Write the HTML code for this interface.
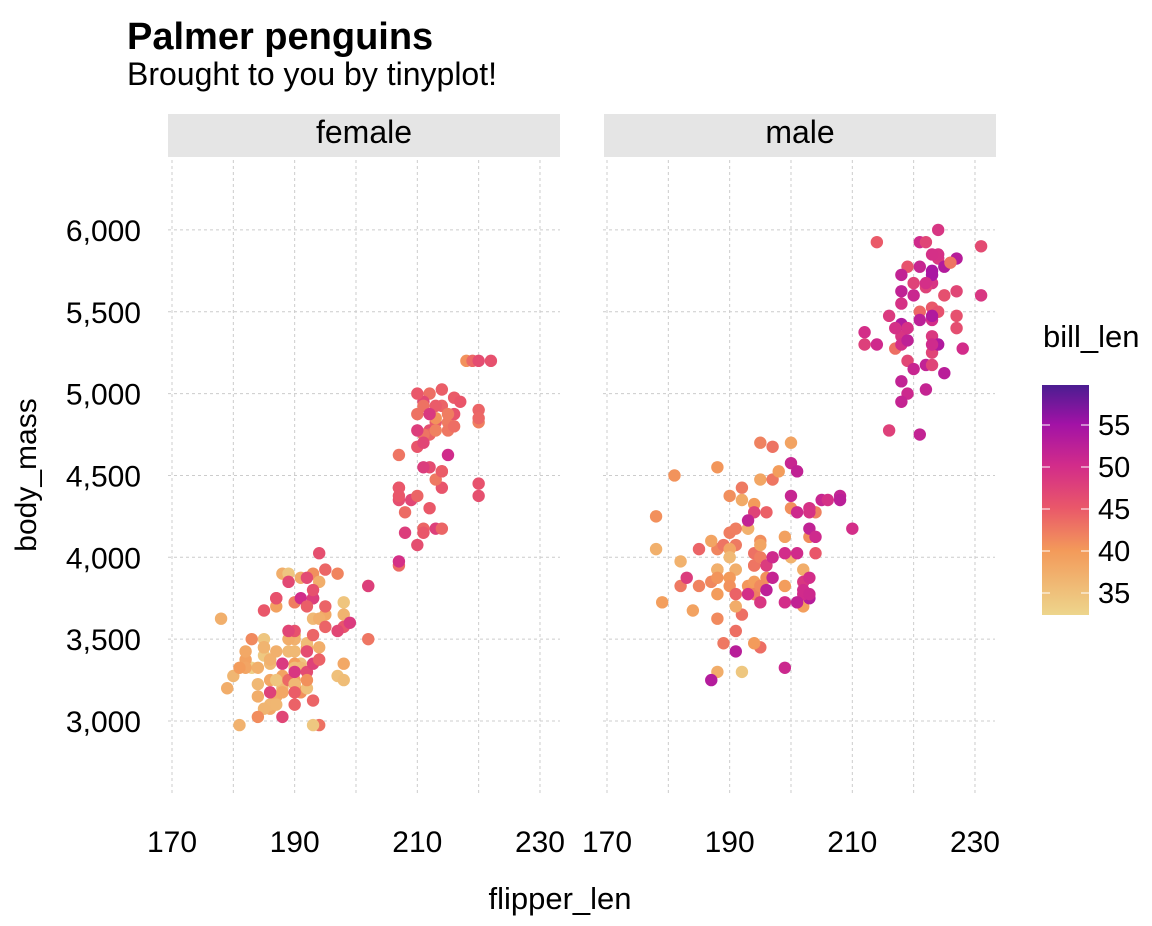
<!DOCTYPE html>
<html><head><meta charset="utf-8"><style>
body{margin:0;background:#fff;}
svg text{font-family:"Liberation Sans",sans-serif;fill:#000;}
</style></head><body>
<svg id="s" width="1152" height="921" xmlns="http://www.w3.org/2000/svg">
<defs><linearGradient id="g" x1="0" y1="1" x2="0" y2="0">
<stop offset="0" stop-color="#edd58c"/><stop offset="0.28" stop-color="#f39a5a"/>
<stop offset="0.47" stop-color="#e9566a"/><stop offset="0.65" stop-color="#d22c8a"/>
<stop offset="0.83" stop-color="#a212a6"/><stop offset="1" stop-color="#4b1d91"/></linearGradient></defs>
<text x="127" y="49" font-size="38" font-weight="bold">Palmer penguins</text>
<text x="127" y="85" font-size="32">Brought to you by tinyplot!</text>
<rect x="168" y="114" width="392" height="43" fill="#e5e5e5"/>
<rect x="604" y="114" width="392" height="43" fill="#e5e5e5"/>
<text x="364" y="143" font-size="32" text-anchor="middle">female</text>
<text x="800" y="143" font-size="32" text-anchor="middle">male</text>
<g id="grid" stroke="#cccccc" stroke-dasharray="3,3" stroke-width="1"></g>
<g id="pts"></g>
<g font-size="30" text-anchor="end" id="yl"></g>
<g font-size="30" text-anchor="middle" id="xl"></g>
<text x="560" y="909" font-size="31" text-anchor="middle">flipper_len</text>
<text transform="translate(36,475) rotate(-90)" font-size="30" text-anchor="middle">body_mass</text>
<text x="1043" y="347" font-size="31">bill_len</text>
<rect x="1042" y="385" width="47" height="230" fill="url(#g)"/>
<g font-size="29" id="ll"></g>
</svg>
<script>
var NS="http://www.w3.org/2000/svg";
function el(p,t,a,txt){var e=document.createElementNS(NS,t);for(var k in a)e.setAttribute(k,a[k]);if(txt)e.textContent=txt;document.getElementById(p).appendChild(e);}
var X0=[172,607],sx=6.133;
function px(f,i){return X0[i]+(f-170)*sx;}
function py(m){return 721-(m-3000)*0.1637;}
for(var i=0;i<2;i++){for(var f=170;f<=230;f+=10)el("grid","line",{x1:px(f,i),x2:px(f,i),y1:160,y2:795});
for(var m=3000;m<=6000;m+=500)el("grid","line",{x1:X0[i]-4,x2:X0[i]+388,y1:py(m),y2:py(m)});
[170,190,210,230].forEach(function(f){el("xl","text",{x:px(f,i),y:852},String(f));});}
[3000,3500,4000,4500,5000,5500,6000].forEach(function(m){el("yl","text",{x:141,y:py(m)+11},(m+"").replace(/(\d)(\d{3})$/,"$1,$2"));});
[55,50,45,40,35].forEach(function(v){el("ll","text",{x:1098,y:425+(55-v)*8.4+10},String(v));el("ll","line",{x1:1042,x2:1050,y1:425+(55-v)*8.4,y2:425+(55-v)*8.4,stroke:"#fff"});el("ll","line",{x1:1081,x2:1089,y1:425+(55-v)*8.4,y2:425+(55-v)*8.4,stroke:"#fff"});});
var stops=[[0,[237,213,140]],[.28,[243,154,90]],[.47,[233,86,106]],[.65,[210,44,138]],[.83,[162,18,166]],[1,[75,29,145]]];
function col(v){var t=(v-32.4)/(59.8-32.4);t=Math.max(0,Math.min(1,t));for(var k=1;k<stops.length;k++)if(t<=stops[k][0]){var a=stops[k-1],b=stops[k],u=(t-a[0])/(b[0]-a[0]);return "rgb("+[0,1,2].map(function(j){return Math.round(a[1][j]+(b[1][j]-a[1][j])*u)}).join(",")+")";}return "rgb(75,29,145)";}
var seed=7;function rnd(){seed=(seed*16807)%2147483647;return seed/2147483647;}
function g(){return Math.sqrt(-2*Math.log(rnd()+1e-9))*Math.cos(2*Math.PI*rnd());}
function grp(i,n,fm,fs,mm,ms,bm,bs,rho,fl,fh,ml,mh){for(var k=0;k<n;k++){var a=g(),b=g();var f=Math.round(fm+fs*a),m=Math.round((mm+ms*(rho*a+Math.sqrt(1-rho*rho)*b))/25)*25;f=Math.max(fl,Math.min(fh,f));m=Math.max(ml,Math.min(mh,m));var v=bm+bs*g();el("pts","circle",{cx:px(f,i),cy:py(m),r:6.2,fill:col(v)});}}
grp(0,73,188,5.5,3370,260,37.3,2,0.35,172,202,2850,3900);
grp(0,34,192,5.5,3530,280,46.5,2.5,0.4,178,202,2700,4150);
grp(0,58,213,4,4680,280,45.5,2,0.5,207,222,3950,5200);
grp(1,73,192,6,4040,340,40.3,2.5,0.4,178,210,3300,4780);
grp(1,34,200,6,3940,360,51,1.5,0.5,187,212,3250,4800);
grp(1,61,221,5,5480,300,49.5,2.7,0.45,208,231,4750,6300);
</script>
</body></html>
